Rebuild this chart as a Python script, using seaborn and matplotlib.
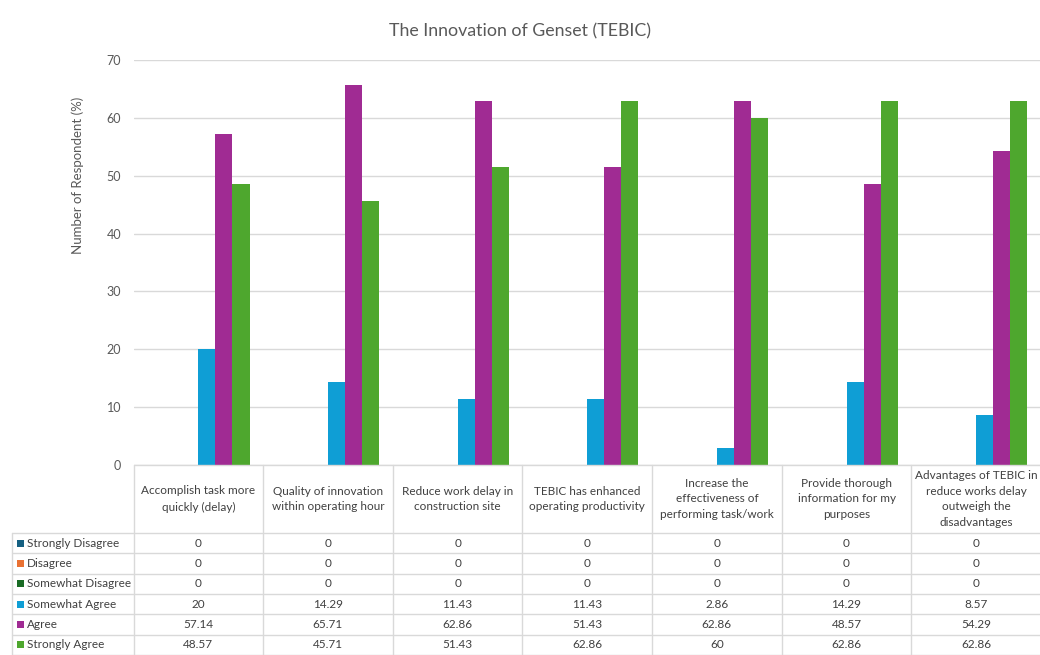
import matplotlib
matplotlib.use("Agg")
import matplotlib.pyplot as plt
import matplotlib.transforms as mtransforms
import pandas as pd
import seaborn as sns

# Survey items (x categories) and their wrapped header text for the data table
categories = ["Q1", "Q2", "Q3", "Q4", "Q5", "Q6", "Q7"]
header_labels = [
    "Accomplish task more\nquickly (delay)",
    "Quality of innovation\nwithin operating hour",
    "Reduce work delay in\nconstruction site",
    "TEBIC has enhanced\noperating productivity",
    "Increase the\neffectiveness of\nperforming task/work",
    "Provide thorough\ninformation for my\npurposes",
    "Advantages of TEBIC in\nreduce works delay\noutweigh the\ndisadvantages",
]

responses = ["Strongly Disagree", "Disagree", "Somewhat Disagree",
             "Somewhat Agree", "Agree", "Strongly Agree"]

strongly_disagree = [0, 0, 0, 0, 0, 0, 0]
disagree = [0, 0, 0, 0, 0, 0, 0]
somewhat_disagree = [0, 0, 0, 0, 0, 0, 0]
somewhat_agree = [20, 14.29, 11.43, 11.43, 2.86, 14.29, 8.57]
agree = [57.14, 65.71, 62.86, 51.43, 62.86, 48.57, 54.29]
strongly_agree = [48.57, 45.71, 51.43, 62.86, 60, 62.86, 62.86]

series = [strongly_disagree, disagree, somewhat_disagree,
          somewhat_agree, agree, strongly_agree]
colors = ["#156082", "#E97132", "#196B24", "#0F9ED5", "#A02B93", "#4EA72E"]

rows = []
for resp, vals in zip(responses, series):
    for cat, v in zip(categories, vals):
        rows.append({"item": cat, "response": resp, "pct": v})
df = pd.DataFrame(rows)

sns.set_theme(style="white")
plt.rcParams["font.family"] = ["Lato", "DejaVu Sans"]

W, H = 1040, 655
fig = plt.figure(figsize=(W / 100, H / 100), dpi=100)


def fy(py):
    return (H - py) / H


def fx(px):
    return px / W


ax_left, ax_right, ax_top, ax_bottom = 133.5, 1041, 60, 465
ax = fig.add_axes([fx(ax_left), fy(ax_bottom), fx(ax_right - ax_left),
                   (ax_bottom - ax_top) / H])

sns.barplot(data=df, x="item", y="pct", hue="response", order=categories,
            hue_order=responses, palette=colors, saturation=1, width=0.79,
            errorbar=None, legend=False, linewidth=0, ax=ax)

ax.set_ylim(0, 70)
ax.set_xlim(-0.5, len(categories) - 0.5)
ax.set_yticks(range(0, 71, 10))
ax.yaxis.grid(True, color="#d9d9d9", linewidth=1)
ax.set_axisbelow(True)
for s in ax.spines.values():
    s.set_visible(False)
ax.tick_params(axis="y", length=0, pad=9, labelsize=9, labelcolor="#595959")
ax.set_xticks([])
ax.set_xlabel("")
ax.set_ylabel("")

text_color = "#404040"
grid_color = "#d9d9d9"

fig.text(0.5, fy(31), "The Innovation of Genset (TEBIC)", ha="center",
         va="center", fontsize=12.8, color="#595959")
fig.text(fx(78), fy(175), "Number of Respondent (%)", rotation=90,
         ha="center", va="center", fontsize=9.5, color="#595959")

# Data table below the plot
blend = mtransforms.blended_transform_factory(ax.transData, fig.transFigure)
header_top, header_bottom = ax_bottom, 533
row_h = (H - header_bottom) / len(responses)
row_edges = [header_bottom + i * row_h for i in range(len(responses) + 1)]
label_left = 12
n = len(categories)

line_kw = dict(color=grid_color, linewidth=1)
fig.add_artist(plt.Line2D([fx(ax_left), 1.0], [fy(header_top)] * 2,
                          transform=fig.transFigure, **line_kw))
for yy in row_edges:
    fig.add_artist(plt.Line2D([fx(label_left), 1.0], [fy(yy)] * 2,
                              transform=fig.transFigure, **line_kw))
fig.add_artist(plt.Line2D([fx(label_left)] * 2, [fy(header_bottom), fy(H)],
                          transform=fig.transFigure, **line_kw))
for i in range(n + 1):
    fig.add_artist(plt.Line2D([i - 0.5] * 2, [fy(header_top), fy(H)],
                              transform=blend, **line_kw))

for i, lab in enumerate(header_labels):
    fig.text(i, fy((header_top + header_bottom) / 2), lab, transform=blend,
             ha="center", va="center", fontsize=8.5, color=text_color,
             linespacing=1.55)

for r, (resp, vals, col) in enumerate(zip(responses, series, colors)):
    yc = fy(row_edges[r] + row_h / 2)
    fig.add_artist(plt.Rectangle((fx(17), yc - 3.5 / H), 7 / W, 7 / H,
                                 transform=fig.transFigure, color=col, lw=0))
    fig.text(fx(27), yc, resp, ha="left", va="center", fontsize=8.5,
             color=text_color)
    for i, v in enumerate(vals):
        fig.text(i, yc, f"{v:g}", transform=blend, ha="center", va="center",
                 fontsize=8.5, color=text_color)

fig.savefig("out.png", dpi=100)
